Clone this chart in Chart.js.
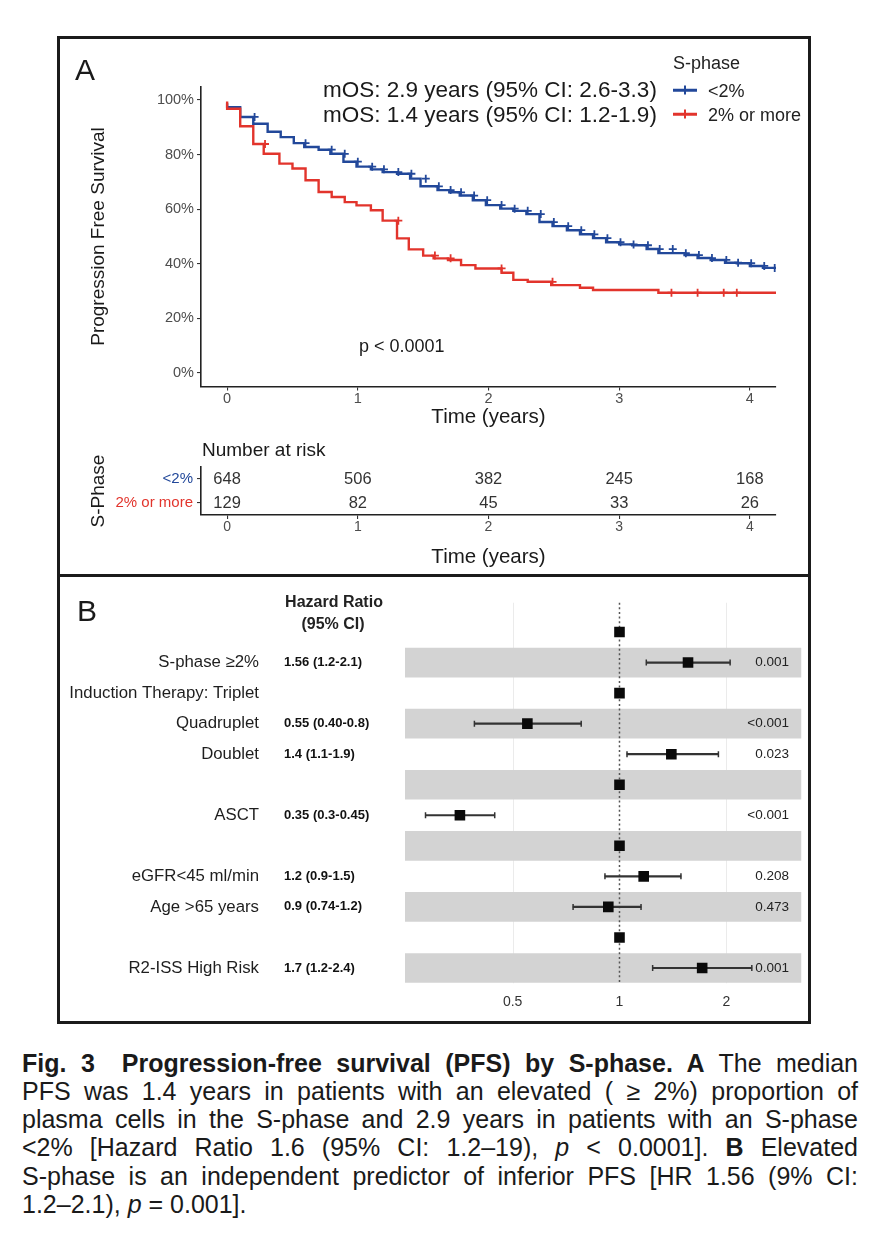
<!DOCTYPE html>
<html lang="en"><head><meta charset="utf-8">
<title>Fig. 3 Progression-free survival by S-phase</title>
<script src="https://cdn.jsdelivr.net/npm/chart.js@4.4.1/dist/chart.umd.min.js"></script>
<style>
html,body{margin:0;padding:0;background:#fff;}
body{position:relative;width:880px;height:1238px;overflow:hidden;font-family:"Liberation Sans",Arial,Helvetica,sans-serif;color:#1a1a1a;}
canvas{position:absolute;display:block;}
.t{position:absolute;white-space:nowrap;line-height:1;transform:translateY(-50%);}
.tc{position:absolute;white-space:nowrap;line-height:1;transform:translate(-50%,-50%);}
#frame{position:absolute;left:57px;top:36px;width:754px;height:988px;border:3px solid #1b1b1b;box-sizing:border-box;}
#divider{position:absolute;left:57px;top:574px;width:754px;height:3px;background:#1b1b1b;}
.sym{position:absolute;height:2.5px;width:24px;transform:translateY(-50%);}
.stick{position:absolute;width:2px;height:9px;transform:translate(-50%,-50%);}
#caption{position:absolute;left:22px;top:1048.5px;width:836px;font-size:25px;line-height:28.3px;color:#1a1a1a;}
#caption .ln{text-align:justify;text-align-last:justify;height:28.3px;}
#caption .ln.last{text-align-last:left;}
</style></head><body>
<div id="frame"></div>
<div id="divider"></div>

<canvas id="km" width="745" height="390" style="left:60px;top:40px;"></canvas>
<canvas id="risk" width="745" height="130" style="left:60px;top:440px;"></canvas>
<canvas id="forest" width="752" height="425" style="left:57px;top:590px;"></canvas>

<!-- Panel A annotations -->
<div class="t" style="left:75px;top:70px;font-size:30px;">A</div>
<div class="t" style="left:323px;top:90px;font-size:22.5px;">mOS: 2.9 years (95% CI: 2.6-3.3)</div>
<div class="t" style="left:323px;top:115px;font-size:22.5px;">mOS: 1.4 years (95% CI: 1.2-1.9)</div>
<div class="t" style="left:673px;top:63px;font-size:18px;color:#222;">S-phase</div>
<div class="sym" style="left:673px;top:90px;background:#22489a;"></div>
<div class="stick" style="left:685px;top:90px;background:#22489a;"></div>
<div class="t" style="left:708px;top:91px;font-size:18px;color:#222;">&lt;2%</div>
<div class="sym" style="left:673px;top:114px;background:#e2342c;"></div>
<div class="stick" style="left:685px;top:114px;background:#e2342c;"></div>
<div class="t" style="left:708px;top:114.5px;font-size:18px;color:#222;">2% or more</div>
<div class="t" style="left:359px;top:346px;font-size:18px;">p &lt; 0.0001</div>
<div class="t" style="left:202px;top:449px;font-size:19px;">Number at risk</div>

<!-- Panel B annotations -->
<div class="t" style="left:77px;top:611px;font-size:30px;">B</div>
<div class="tc" style="left:334px;top:602px;font-size:16px;font-weight:bold;color:#222;">Hazard Ratio</div>
<div class="tc" style="left:333px;top:624px;font-size:16px;font-weight:bold;color:#222;">(95% CI)</div>

<div id="caption">
<div class="ln"><b>Fig. 3&ensp; Progression-free survival (PFS) by S-phase. A</b> The median</div>
<div class="ln">PFS was 1.4 years in patients with an elevated ( ≥ 2%) proportion of</div>
<div class="ln">plasma cells in the S-phase and 2.9 years in patients with an S-phase</div>
<div class="ln">&lt;2% [Hazard Ratio 1.6 (95% CI: 1.2–19), <i>p</i> &lt; 0.0001]. <b>B</b> Elevated</div>
<div class="ln">S-phase is an independent predictor of inferior PFS [HR 1.56 (9% CI:</div>
<div class="ln last">1.2–2.1), <i>p</i> = 0.001].</div>
</div>

<script>
const FONT = '"Liberation Sans", Arial, sans-serif';
const BLUE = '#22489a';
const RED = '#e2342c';

// ---------- Panel A data ----------
const groups = ['<2%', '2% or more'];
const blueTimes = [0, 0.10, 0.20, 0.31, 0.41, 0.51, 0.59, 0.70, 0.79, 0.89, 0.99, 1.10, 1.19, 1.30, 1.40, 1.48, 1.61, 1.70, 1.78, 1.88, 1.98, 2.09, 2.19, 2.29, 2.39, 2.49, 2.60, 2.70, 2.80, 2.90, 3.00, 3.10, 3.21, 3.30, 3.50, 3.60, 3.70, 3.81, 3.90, 4.00, 4.10, 4.18, 4.20];
const blueSurv  = [98.8, 97.4, 93.8, 91.3, 88.4, 86.4, 84.2, 82.8, 81.8, 80.3, 77.4, 75.6, 74.6, 73.6, 73.0, 71.2, 68.4, 67.0, 66.2, 65.0, 63.3, 61.5, 60.2, 59.4, 58.2, 55.3, 53.8, 52.3, 50.8, 49.4, 47.9, 47.1, 46.8, 45.4, 43.9, 43.2, 42.1, 41.4, 40.4, 40.2, 39.2, 38.5, 38.5];
const redTimes = [0, 0.10, 0.20, 0.28, 0.40, 0.50, 0.60, 0.70, 0.80, 0.90, 0.99, 1.10, 1.19, 1.30, 1.39, 1.50, 1.58, 1.69, 1.79, 1.90, 2.10, 2.19, 2.30, 2.48, 2.70, 2.80, 3.30, 3.39, 4.20];
const redSurv  = [99.5, 96.8, 90.4, 83.9, 80.3, 76.7, 74.9, 70.6, 66.3, 64.5, 62.6, 61.4, 59.6, 55.8, 49.3, 45.3, 43.0, 42.0, 41.4, 39.5, 38.3, 36.7, 34.1, 33.4, 32.2, 31.2, 30.4, 29.4, 29.4];
const blueCensor = [0.21, 0.60, 0.80, 0.90, 1.00, 1.11, 1.20, 1.31, 1.41, 1.52, 1.62, 1.71, 1.79, 1.89, 1.99, 2.10, 2.20, 2.30, 2.40, 2.50, 2.61, 2.71, 2.81, 2.91, 3.01, 3.11, 3.22, 3.31, 3.41, 3.51, 3.61, 3.71, 3.82, 3.91, 4.01, 4.11, 4.19];
const redCensor = [0.29, 1.31, 1.59, 1.71, 2.10, 2.49, 3.40, 3.60, 3.80, 3.90];
const kmXTicks = [0, 1, 2, 3, 4];
const kmYTicks = [0, 20, 40, 60, 80, 100];
const kmYTickLabels = ['0%', '20%', '40%', '60%', '80%', '100%'];
const riskTimes = [0, 1, 2, 3, 4];
const riskBlue = [648, 506, 382, 245, 168];
const riskRed = [129, 82, 45, 33, 26];

// ---------- Panel B data ----------
const rowKeys = ['r1','r2','r3','r4','r5','r6','r7','r8','r9','r10','r11','r12'];
const rowLabels = ['', 'S-phase ≥2%', 'Induction Therapy: Triplet', 'Quadruplet', 'Doublet', '', 'ASCT', '', 'eGFR<45 ml/min', 'Age >65 years', '', 'R2-ISS High Risk'];
const hr     = [1, 1.56, 1, 0.55, 1.40, 1, 0.355, 1, 1.17, 0.93, 1, 1.71];
const ciLow  = [null, 1.19, null, 0.39, 1.05, null, 0.284, null, 0.91, 0.74, null, 1.24];
const ciHigh = [null, 2.05, null, 0.78, 1.90, null, 0.445, null, 1.49, 1.15, null, 2.36];
const hrText = ['', '1.56 (1.2-2.1)', '', '0.55 (0.40-0.8)', '1.4 (1.1-1.9)', '', '0.35 (0.3-0.45)', '', '1.2 (0.9-1.5)', '0.9 (0.74-1.2)', '', '1.7 (1.2-2.4)'];
const pText  = ['', '0.001', '', '<0.001', '0.023', '', '<0.001', '', '0.208', '0.473', '', '0.001'];
const shaded = [0, 1, 0, 1, 0, 1, 0, 1, 0, 1, 0, 1];
const forestTicks = [0.5, 1, 2];
const forestTickLabels = ['0.5', '1', '2'];
const forestMin = 0.2486, forestMax = 3.258;

Chart.defaults.font.family = FONT;

function survAt(times, surv, t) {
  let v = surv[0];
  for (let i = 0; i < times.length; i++) if (times[i] <= t + 1e-9) v = surv[i];
  return v;
}
const toPts = (ts, ss) => ts.map((t, i) => ({x: t, y: ss[i]}));

// ---------- KM chart ----------
new Chart(document.getElementById('km'), {
  type: 'line',
  data: {datasets: [
    {data: toPts(blueTimes, blueSurv), borderColor: BLUE, borderWidth: 2.4, stepped: 'after', pointRadius: 0, fill: false, order: 2},
    {data: toPts(redTimes, redSurv), borderColor: RED, borderWidth: 2.4, stepped: 'after', pointRadius: 0, fill: false, order: 1},
    {type: 'scatter', data: blueCensor.map(t => ({x: t, y: survAt(blueTimes, blueSurv, t)})), pointStyle: 'cross', pointRadius: 4, borderColor: BLUE, borderWidth: 1.8, order: 0},
    {type: 'scatter', data: redCensor.map(t => ({x: t, y: survAt(redTimes, redSurv, t)})), pointStyle: 'cross', pointRadius: 4, borderColor: RED, borderWidth: 1.8, order: 0}
  ]},
  options: {
    responsive: false, animation: false, events: [],
    layout: {padding: {left: 0, right: 29, top: 46.4, bottom: 0}},
    plugins: {legend: {display: false}, tooltip: {enabled: false}},
    scales: {
      x: {type: 'linear', min: -0.2, max: 4.2,
        afterBuildTicks: s => { s.ticks = kmXTicks.map(v => ({value: v})); },
        afterFit: s => { s.height = 43.4; },
        ticks: {callback: (v, i) => String(kmXTicks[i]), font: {size: 14.5}, color: '#4d4d4d', padding: 0, maxRotation: 0, autoSkip: false},
        grid: {drawOnChartArea: false, drawTicks: true, tickLength: 4, color: '#333', lineWidth: 1.1},
        border: {display: true, color: '#222', width: 1.6},
        title: {display: true, text: 'Time (years)', font: {size: 20.5}, color: '#1a1a1a', padding: {top: 3.7, bottom: 0}}
      },
      y: {type: 'linear', min: -5, max: 105,
        afterBuildTicks: s => { s.ticks = kmYTicks.map(v => ({value: v})); },
        afterFit: s => { s.width = 141; },
        ticks: {callback: (v, i) => kmYTickLabels[i], font: {size: 14.5}, color: '#4d4d4d', padding: 3, autoSkip: false},
        grid: {drawOnChartArea: false, drawTicks: true, tickLength: 4, color: '#333', lineWidth: 1.1},
        border: {display: true, color: '#222', width: 1.6},
        title: {display: true, text: 'Progression Free Survival', font: {size: 19}, color: '#1a1a1a', padding: {top: 27.5, bottom: 0}}
      }
    }
  }
});

// ---------- Risk table ----------
const riskNumbers = {
  id: 'riskNumbers',
  afterDatasetsDraw(chart) {
    const ctx = chart.ctx;
    ctx.save();
    ctx.font = '16.5px ' + FONT;
    ctx.fillStyle = '#333';
    ctx.textAlign = 'center';
    ctx.textBaseline = 'middle';
    chart.data.datasets.forEach((ds, di) => {
      chart.getDatasetMeta(di).data.forEach((pt, i) => ctx.fillText(String(ds.numbers[i]), pt.x, pt.y));
    });
    ctx.restore();
  }
};
new Chart(document.getElementById('risk'), {
  type: 'scatter',
  data: {datasets: [
    {data: riskTimes.map(t => ({x: t, y: groups[0]})), numbers: riskBlue, pointRadius: 0},
    {data: riskTimes.map(t => ({x: t, y: groups[1]})), numbers: riskRed, pointRadius: 0}
  ]},
  options: {
    responsive: false, animation: false, events: [],
    layout: {padding: {left: 0, right: 29, top: 27, bottom: 0}},
    plugins: {legend: {display: false}, tooltip: {enabled: false}},
    scales: {
      x: {type: 'linear', min: -0.2, max: 4.2,
        afterBuildTicks: s => { s.ticks = riskTimes.map(v => ({value: v})); },
        afterFit: s => { s.height = 55; },
        ticks: {callback: (v, i) => String(riskTimes[i]), font: {size: 14}, color: '#4d4d4d', padding: 0, maxRotation: 0, autoSkip: false},
        grid: {drawOnChartArea: false, drawTicks: true, tickLength: 4, color: '#333', lineWidth: 1.1},
        border: {display: true, color: '#222', width: 1.6},
        title: {display: true, text: 'Time (years)', font: {size: 20.5}, color: '#1a1a1a', padding: {top: 11.7, bottom: 0}}
      },
      y: {type: 'category', labels: groups, offset: true,
        afterFit: s => { s.width = 141; },
        ticks: {font: {size: 15}, color: c => [BLUE, RED][c.index], padding: 4, autoSkip: false},
        grid: {drawOnChartArea: false, drawTicks: true, tickLength: 4, color: '#333', lineWidth: 1.1, offset: false},
        border: {display: true, color: '#222', width: 1.6},
        title: {display: true, text: 'S-Phase', font: {size: 19}, color: '#1a1a1a', padding: {top: 27.6, bottom: 0}}
      }
    }
  },
  plugins: [riskNumbers]
});

// ---------- Forest plot ----------
const BAND_INDEX = 4;
const forestDecor = {
  id: 'forestDecor',
  beforeDatasetsDraw(chart) {
    const {ctx, chartArea} = chart; const x = chart.scales.x;
    ctx.save(); ctx.strokeStyle = '#ebebeb'; ctx.lineWidth = 1;
    forestTicks.forEach(v => {
      if (v === 1) return;
      const px = Math.round(x.getPixelForValue(v)) + 0.5;
      ctx.beginPath(); ctx.moveTo(px, chartArea.top - 14); ctx.lineTo(px, chartArea.bottom); ctx.stroke();
    });
    ctx.restore();
  },
  afterDatasetDraw(chart, args) {
    if (args.index !== BAND_INDEX) return;
    const {ctx, chartArea} = chart; const x = chart.scales.x;
    const px = x.getPixelForValue(1);
    ctx.save(); ctx.strokeStyle = '#555'; ctx.lineWidth = 1.5; ctx.setLineDash([2, 2.6]);
    ctx.beginPath(); ctx.moveTo(px, chartArea.top - 14); ctx.lineTo(px, chartArea.bottom + 1); ctx.stroke();
    ctx.restore();
  },
  afterDraw(chart) {
    const ctx = chart.ctx; const y = chart.scales.y;
    ctx.save();
    ctx.textBaseline = 'middle';
    rowKeys.forEach((k, i) => {
      const py = y.getPixelForValue(i);
      if (hrText[i]) {
        ctx.font = 'bold 13px ' + FONT; ctx.fillStyle = '#111'; ctx.textAlign = 'left';
        ctx.fillText(hrText[i], 227, py);
      }
      if (pText[i]) {
        ctx.font = '13.5px ' + FONT; ctx.fillStyle = '#222'; ctx.textAlign = 'right';
        ctx.fillText(pText[i], 732, py);
      }
    });
    ctx.restore();
  }
};
new Chart(document.getElementById('forest'), {
  type: 'bar',
  data: {labels: rowKeys, datasets: [
    {type: 'scatter', data: hr.map((v, i) => ({x: v, y: rowKeys[i]})), pointStyle: 'rect', pointRadius: 7.5, backgroundColor: '#0a0a0a', borderWidth: 0, order: 0},
    {type: 'scatter', data: rowKeys.map((k, i) => ciLow[i] == null ? null : {x: ciLow[i], y: k}).filter(d => d), pointStyle: 'line', rotation: 90, pointRadius: 3, borderColor: '#333', borderWidth: 1.5, order: 1},
    {type: 'scatter', data: rowKeys.map((k, i) => ciHigh[i] == null ? null : {x: ciHigh[i], y: k}).filter(d => d), pointStyle: 'line', rotation: 90, pointRadius: 3, borderColor: '#333', borderWidth: 1.5, order: 1},
    {type: 'bar', data: rowKeys.map((k, i) => ciLow[i] == null ? null : [ciLow[i], ciHigh[i]]), backgroundColor: '#333', barThickness: 1.5, grouped: false, order: 2},
    {type: 'bar', data: shaded.map(s => s ? [forestMin, forestMax] : null), backgroundColor: '#d3d3d3', categoryPercentage: 1, barPercentage: 0.97, grouped: false, order: 3}
  ]},
  options: {
    indexAxis: 'y',
    responsive: false, animation: false, events: [],
    layout: {padding: {left: 0, right: 3, top: 26.75, bottom: 0}},
    plugins: {legend: {display: false}, tooltip: {enabled: false}},
    scales: {
      x: {type: 'logarithmic', min: forestMin, max: forestMax,
        afterBuildTicks: s => { s.ticks = forestTicks.map(v => ({value: v})); },
        afterFit: s => { s.height = 31.75; s.paddingLeft = 0; s.paddingRight = 0; },
        ticks: {callback: (v, i) => forestTickLabels[i], font: {size: 14}, color: '#333', padding: 10.3, maxRotation: 0, autoSkip: false},
        grid: {display: false, drawTicks: false},
        border: {display: false}
      },
      y: {type: 'category', offset: true,
        afterFit: s => { s.width = 348; s.paddingTop = 0; s.paddingBottom = 0; },
        ticks: {callback: (v, i) => rowLabels[i], font: {size: 16.8}, color: '#1e1e1e', padding: 146, autoSkip: false},
        grid: {display: false, drawTicks: false},
        border: {display: false}
      }
    }
  },
  plugins: [forestDecor]
});
</script>
</body></html>
